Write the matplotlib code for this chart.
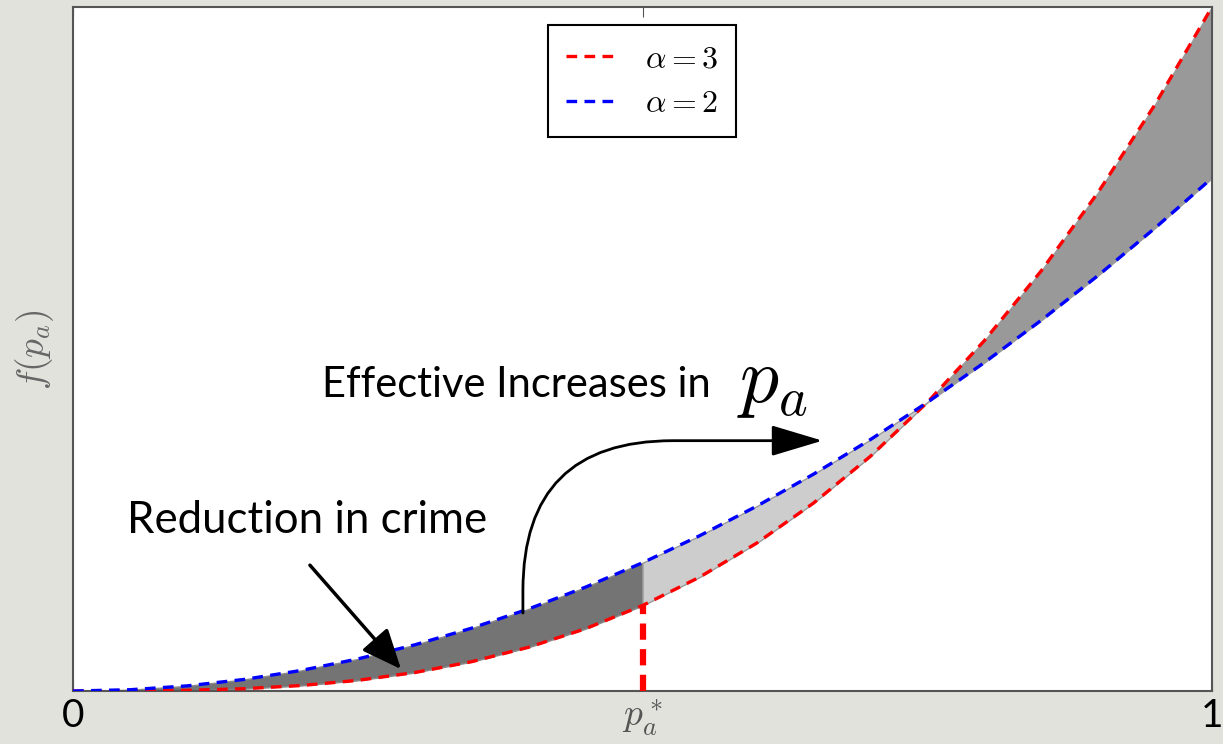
import numpy as np
import matplotlib.pyplot as plt

plt.rcParams['mathtext.fontset'] = 'cm'

# f(p_a), p_a in steps of 0.05
p_a = [0.00, 0.05, 0.10, 0.15, 0.20, 0.25, 0.30, 0.35, 0.40, 0.45, 0.50,
       0.55, 0.60, 0.65, 0.70, 0.75, 0.80, 0.85, 0.90, 0.95, 1.00]
f_alpha3 = [0.0, 0.0001, 0.001, 0.0034, 0.008, 0.0156, 0.027, 0.0429, 0.064,
            0.0911, 0.125, 0.1664, 0.216, 0.2746, 0.343, 0.4219, 0.512,
            0.6141, 0.729, 0.8574, 1.0]
f_alpha2 = [0.0, 0.0019, 0.0075, 0.0169, 0.03, 0.0469, 0.0675, 0.0919, 0.12,
            0.1519, 0.1875, 0.2269, 0.27, 0.3169, 0.3675, 0.4219, 0.48,
            0.5419, 0.6075, 0.6769, 0.75]
p_star = 0.5
p_cross = 0.75
xtick_labels = ['0', r'$p_a^*$', '1']

x = np.array(p_a)
r = np.array(f_alpha3)
b = np.array(f_alpha2)

fig = plt.figure(figsize=(12.23, 7.44), dpi=100, facecolor='#e2e2dd')
ax = fig.add_axes([0.0597, 0.0712, 0.9313, 0.9194])

# shaded gaps between the two curves
m1 = x <= p_star
m2 = (x >= p_star) & (x <= p_cross)
m3 = x >= p_cross
ax.fill_between(x[m1], r[m1], b[m1], facecolor='#747474', edgecolor='#8a8a8a', lw=1)
ax.fill_between(x[m2], r[m2], b[m2], facecolor='#cdcdcd', edgecolor='#999999', lw=1)
ax.fill_between(x[m3], r[m3], b[m3], facecolor='#999999', edgecolor='#999999', lw=1)

ax.plot(x, r, color='red', lw=2.4, dashes=(3.2, 2.2), label=r'$\alpha=3$', zorder=3)
ax.plot(x, b, color='blue', lw=2.4, dashes=(3.2, 2.2), label=r'$\alpha=2$', zorder=3)

# marker at p_a*
ax.plot([p_star, p_star], [0, f_alpha3[p_a.index(p_star)]], color='red', lw=4.5,
        dashes=(2.6, 1.5), zorder=4)

ax.set_xlim(0, 1)
ax.set_ylim(0, 1)
ax.set_yticks([])
ax.set_xticks([0, p_star, 1])
ax.set_xticklabels(xtick_labels)
ax.tick_params(axis='x', direction='in', top=True, length=7, color='#555555', pad=5)
labs = ax.get_xticklabels()
for lab in (labs[0], labs[2]):
    lab.set_fontsize(28)
    lab.set_family('Lato')
labs[1].set_fontsize(27)
labs[1].set_color('#555555')
for s in ax.spines.values():
    s.set_color('#555555')
    s.set_linewidth(1.5)

ax.set_ylabel(r'$f(p_a)$', fontsize=27, color='#666666', labelpad=12)

leg = ax.legend(loc='upper center', bbox_to_anchor=(0.4996, 0.973), fontsize=23,
                handlelength=1.6, borderpad=0.55, labelspacing=0.45,
                handletextpad=0.9, borderaxespad=0, fancybox=False, framealpha=1)
leg.get_frame().set_edgecolor('black')
leg.get_frame().set_linewidth(1.5)

ax.text(0.047, 0.25, 'Reduction in crime', fontsize=31.5, family='Lato', va='center')
ax.text(0.219, 0.447, 'Effective Increases in', fontsize=30, family='Lato', va='center')
ax.text(0.583, 0.452, r'$p_a$', fontsize=56, va='center')

ax.annotate('', xy=(0.288, 0.032), xytext=(0.208, 0.184),
            arrowprops=dict(arrowstyle='-|>,head_length=0.7,head_width=0.3',
                            color='black', lw=2.5,
                            mutation_scale=35, shrinkA=0, shrinkB=0))
ax.annotate('', xy=(0.658, 0.366), xytext=(0.395, 0.114),
            arrowprops=dict(arrowstyle='-|>,head_length=0.8,head_width=0.24',
                            color='black', lw=2,
                            mutation_scale=40, shrinkA=0, shrinkB=0,
                            connectionstyle='angle,angleA=90,angleB=0,rad=150'))

fig.savefig('out.png', dpi=100, facecolor=fig.get_facecolor())
